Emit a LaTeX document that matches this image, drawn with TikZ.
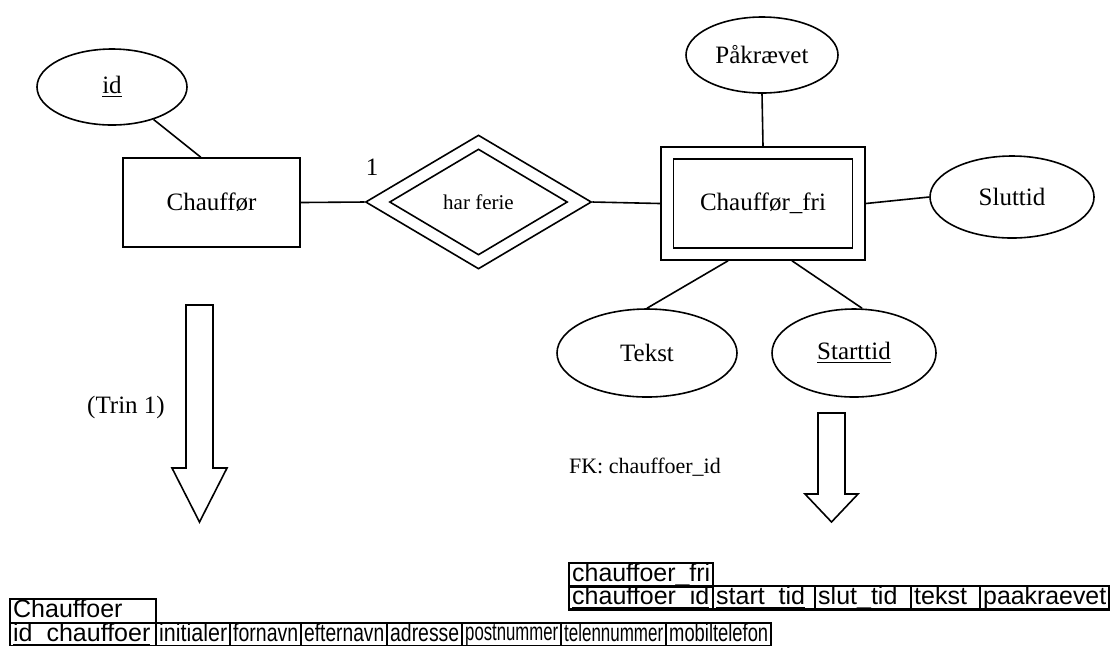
\documentclass[tikz,border=0pt]{standalone}
\usepackage{fontspec}
\usepackage{graphicx}
\setmainfont{Liberation Serif}
\newfontfamily\tabfont{Liberation Sans}
\usetikzlibrary{shapes.geometric,calc}

% squeeze a cell text horizontally when it is wider than its cell
\newsavebox\cellbox
\newcommand\fitto[2]{\sbox\cellbox{#2}\ifdim\wd\cellbox>#1\relax\resizebox{#1}{\height}{\usebox\cellbox}\else\usebox\cellbox\fi}
% thick underline for key columns
\newsavebox\ulbox
\newcommand\keyul[1]{\sbox\ulbox{#1}\rlap{\rule[-2.5pt]{\wd\ulbox}{1.1pt}}\usebox\ulbox}
\newcommand\cellstrut{\rule[-2.6pt]{0pt}{9.0pt}}
% one table cell: name, x, y (top left, px), width px, height px, text
\newcommand\tabcell[6]{%
  \pgfmathsetmacro\cw{(#4-6)/2}%
  \node[cell, text width=\cw pt, minimum height=#5*0.5pt] (#1) at (#2,#3) {\cellstrut\fitto{\cw pt}{#6}};}

\begin{document}
\begin{tikzpicture}[x=0.5pt,y=-0.5pt,
  font=\fontsize{12.5pt}{15pt}\selectfont,
  line join=miter,
  ent/.style={draw, rectangle, line width=0.8pt, inner sep=0pt},
  attr/.style={draw, ellipse, line width=0.8pt, inner sep=0pt},
  rel/.style={draw, diamond, line width=0.8pt, inner sep=0pt},
  conn/.style={draw, line width=0.8pt},
  blockarrow/.style={draw, line width=0.8pt, fill=white},
  cell/.style={draw, rectangle, line width=1.2pt, anchor=north west,
    inner xsep=1.5pt, inner ysep=0pt, align=left,
    font=\tabfont\fontsize{12.5pt}{14pt}\selectfont}]
\fill[white] (0,0) rectangle (1111,645);
\useasboundingbox (0,0) rectangle (1111,645);

% entity Chauffør and its key
\node[attr, minimum width=75pt, minimum height=38pt] (id) at (112,87) {\underline{id}};
\node[ent, minimum width=88.5pt, minimum height=44.5pt] (chauffor) at (211.5,202.5) {Chauffør};

% identifying relationship
\node[rel, minimum width=113pt, minimum height=67pt] (relo) at (478.5,202) {};
\node[rel, minimum width=89pt, minimum height=53pt, font=\fontsize{10.5pt}{12pt}\selectfont] (reli) at (478.5,202) {har ferie};
\node (one) at (372,167) {1};

% weak entity Chauffør_fri
\node[ent, minimum width=102pt, minimum height=56.5pt] (frio) at (763,203.5) {};
\node[ent, minimum width=89.5pt, minimum height=44.5pt] (frii) at (763,203.5) {Chauffør\_fri};

% attributes of Chauffør_fri
\node[attr, minimum width=76pt, minimum height=38pt] (pak) at (762,55) {Påkrævet};
\node[attr, minimum width=82pt, minimum height=41pt] (slut) at (1012,197) {Sluttid};
\node[attr, minimum width=90pt, minimum height=44pt] (tekst) at (647,353) {Tekst};
\node[attr, minimum width=82pt, minimum height=44pt] (start) at (854,353) {\underline{Starttid}};

% connectors
\draw[conn] (id.-38) -- ($(chauffor.north west)!0.44!(chauffor.north east)$);
\draw[conn] (chauffor.east) -- (relo.west);
\draw[conn] (relo.east) -- (frio.west);
\draw[conn] (pak.south) -- (frio.north);
\draw[conn] (frio.east) -- (slut.west);
\draw[conn] ($(frio.south)+(-35,0)$) -- (tekst.north);
\draw[conn] ($(frio.south)+(29,0)$) -- ($(start.north)+(8,0)$);

% mapping arrows
\draw[blockarrow] (186,305) -- (213,305) -- (213,468) -- (227,468) -- (199.5,522)
  -- (172,468) -- (186,468) -- cycle;
\draw[blockarrow] (818,413) -- (845,413) -- (845,494) -- (858,494) -- (831.5,522)
  -- (805,494) -- (818,494) -- cycle;

\node (trin) at (126,407) {(Trin 1)};
\node[anchor=west, font=\fontsize{11pt}{13pt}\selectfont] (fk) at (562,467) {FK: chauffoer\_id};

% table chauffoer_fri
\tabcell{fh}{568}{562}{144}{23}{chauffoer\_fri}
\tabcell{f1}{568}{585}{144}{23}{\keyul{chauffoer\_id}}
\tabcell{f2}{712}{585}{102}{23}{\keyul{start\_tid}}
\tabcell{f3}{814}{585}{96}{23}{slut\_tid}
\tabcell{f4}{910}{585}{69}{23}{tekst}
\tabcell{f5}{979}{585}{129}{23}{paakraevet}

% table Chauffoer
\tabcell{ch}{9}{598}{146}{24}{Chauffoer}
\tabcell{c1}{9}{622}{146}{23}{\keyul{id\_chauffoer}}
\tabcell{c2}{155}{622}{74}{23}{initialer}
\tabcell{c3}{229}{622}{71}{23}{fornavn}
\tabcell{c4}{300}{622}{86}{23}{efternavn}
\tabcell{c5}{386}{622}{75}{23}{adresse}
\tabcell{c6}{461}{622}{99}{23}{postnummer}
\tabcell{c7}{560}{622}{105}{23}{telennummer}
\tabcell{c8}{665}{622}{105}{23}{mobiltelefon}
\end{tikzpicture}
\end{document}
